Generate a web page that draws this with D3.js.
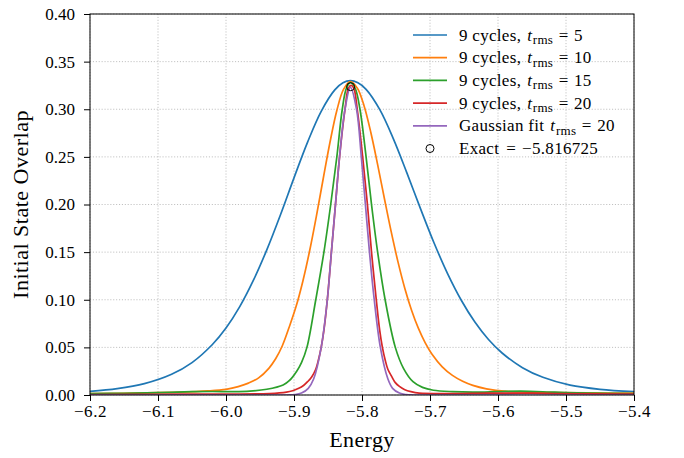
<!DOCTYPE html>
<html><head><meta charset="utf-8">
<script src="https://cdn.jsdelivr.net/npm/d3@7"></script>
<style>
html,body{margin:0;padding:0;background:#fff;}
svg{display:block;}
text{font-family:"Liberation Serif","DejaVu Serif",serif;fill:#000;}
</style></head>
<body>
<svg id="chart" width="684" height="458"></svg>
<script>
// ---- data ----
const xTicks = [-6.2, -6.1, -6.0, -5.9, -5.8, -5.7, -5.6, -5.5, -5.4];
const yTicks = [0.00, 0.05, 0.10, 0.15, 0.20, 0.25, 0.30, 0.35, 0.40];
const legendPrefix = ["9 cycles, ", "9 cycles, ", "9 cycles, ", "9 cycles, ", "Gaussian fit "];
const trms = [5, 10, 15, 20, 20];

const energy5  = [-6.200,-6.160,-6.120,-6.080,-6.050,-6.020,-6.000,-5.980,-5.960,-5.940,-5.920,-5.900,-5.880,-5.860,-5.840,-5.828,-5.817,-5.806,-5.794,-5.774,-5.754,-5.734,-5.714,-5.694,-5.674,-5.654,-5.634,-5.614,-5.594,-5.564,-5.534,-5.494,-5.450,-5.400];
const overlap5 = [0.0037,0.0066,0.0119,0.0217,0.034,0.053,0.0703,0.0925,0.120,0.1524,0.189,0.228,0.2655,0.2978,0.3203,0.3278,0.330,0.3278,0.3209,0.2998,0.2692,0.2332,0.1957,0.1596,0.1272,0.0995,0.0766,0.0583,0.0441,0.0287,0.0186,0.0104,0.0060,0.0035];

const energy10  = [-6.200,-6.117,-6.067,-6.027,-6.000,-5.982,-5.967,-5.952,-5.937,-5.927,-5.917,-5.907,-5.897,-5.887,-5.877,-5.867,-5.857,-5.847,-5.837,-5.827,-5.817,-5.807,-5.797,-5.787,-5.777,-5.767,-5.757,-5.747,-5.737,-5.727,-5.717,-5.707,-5.697,-5.682,-5.667,-5.652,-5.637,-5.617,-5.587,-5.557,-5.517,-5.467,-5.400];
const overlap10 = [0.0015,0.0022,0.003,0.0043,0.006,0.0088,0.0125,0.018,0.028,0.038,0.052,0.0714,0.0928,0.1195,0.1514,0.1881,0.2273,0.2656,0.2987,0.3211,0.329,0.3224,0.3037,0.2756,0.2418,0.206,0.1712,0.1395,0.1119,0.0888,0.0699,0.0548,0.0428,0.0296,0.0206,0.0144,0.0101,0.0065,0.0038,0.003,0.0025,0.0022,0.002];

const energy15  = [-6.200,-6.150,-6.100,-6.050,-6.020,-5.990,-5.965,-5.940,-5.916,-5.907,-5.896,-5.889,-5.881,-5.868,-5.856,-5.846,-5.837,-5.829,-5.823,-5.817,-5.810,-5.803,-5.794,-5.786,-5.777,-5.766,-5.751,-5.739,-5.725,-5.711,-5.695,-5.667,-5.637,-5.600,-5.567,-5.517,-5.467,-5.400];
const overlap15 = [0.0015,0.0018,0.0025,0.0035,0.0037,0.0035,0.004,0.006,0.0105,0.015,0.025,0.034,0.050,0.100,0.150,0.200,0.250,0.300,0.322,0.328,0.322,0.300,0.250,0.200,0.150,0.100,0.050,0.028,0.014,0.008,0.005,0.0035,0.003,0.0035,0.004,0.003,0.002,0.0015];

const energy20  = [-6.200,-6.100,-6.000,-5.936,-5.911,-5.902,-5.893,-5.886,-5.880,-5.874,-5.868,-5.864,-5.860,-5.856,-5.851,-5.845,-5.839,-5.833,-5.825,-5.820,-5.816,-5.812,-5.807,-5.799,-5.792,-5.786,-5.779,-5.774,-5.770,-5.766,-5.762,-5.756,-5.751,-5.745,-5.737,-5.728,-5.716,-5.666,-5.616,-5.566,-5.516,-5.400];
const overlap20 = [0.0005,0.0008,0.001,0.0015,0.003,0.0045,0.007,0.010,0.014,0.019,0.027,0.037,0.050,0.068,0.100,0.150,0.200,0.250,0.300,0.322,0.325,0.322,0.300,0.250,0.200,0.150,0.100,0.068,0.050,0.037,0.027,0.019,0.013,0.009,0.0055,0.0035,0.002,0.0015,0.002,0.002,0.0015,0.001];

const energyFit  = [-6.200,-5.910,-5.899,-5.889,-5.879,-5.871,-5.860,-5.851,-5.845,-5.839,-5.833,-5.825,-5.817,-5.808,-5.801,-5.795,-5.789,-5.782,-5.773,-5.762,-5.755,-5.745,-5.735,-5.725,-5.400];
const overlapFit = [0.000,0.000,0.0004,0.002,0.007,0.017,0.050,0.100,0.150,0.200,0.250,0.300,0.323,0.300,0.250,0.200,0.150,0.100,0.050,0.017,0.007,0.002,0.0004,0.000,0.000];

const exactEnergy = -5.816725;
const exactOverlap = 0.3237;

const colors = ["#1f77b4", "#ff7f0e", "#2ca02c", "#d62728", "#9467bd"];

// ---- layout ----
const svg = d3.select("#chart");
const M = {left: 90, right: 634, top: 14, bottom: 395};
const x = d3.scaleLinear().domain([-6.2, -5.4]).range([M.left, M.right]);
const y = d3.scaleLinear().domain([0, 0.4]).range([M.bottom, M.top]);

const fmtMinus = s => s.replace("-", "\u2212");

// grid
const grid = svg.append("g");
grid.selectAll("line.gx").data(xTicks).join("line")
  .attr("x1", d => x(d)).attr("x2", d => x(d)).attr("y1", M.top).attr("y2", M.bottom)
  .attr("stroke", "#b0b0b0").attr("stroke-width", 0.8).attr("stroke-dasharray", "1.1,1.8");
grid.selectAll("line.gy").data(yTicks).join("line")
  .attr("y1", d => y(d)).attr("y2", d => y(d)).attr("x1", M.left).attr("x2", M.right)
  .attr("stroke", "#b0b0b0").attr("stroke-width", 0.8).attr("stroke-dasharray", "1.1,1.8");

// clip
svg.append("clipPath").attr("id", "clip").append("rect")
  .attr("x", M.left).attr("y", M.top - 5).attr("width", M.right - M.left).attr("height", M.bottom - M.top + 5);

const line = d3.line().x(d => x(d[0])).y(d => y(Math.max(0, d[1]))).curve(d3.curveCatmullRom.alpha(0.5));
const allSeries = [
  d3.zip(energy5, overlap5),
  d3.zip(energy10, overlap10),
  d3.zip(energy15, overlap15),
  d3.zip(energy20, overlap20),
  d3.zip(energyFit, overlapFit)
];
const plot = svg.append("g").attr("clip-path", "url(#clip)");
allSeries.forEach((s, i) => {
  plot.append("path").datum(s).attr("d", line)
    .attr("fill", "none").attr("stroke", colors[i]).attr("stroke-width", 1.7)
    .attr("stroke-linejoin", "round");
});
svg.append("circle").attr("cx", x(exactEnergy)).attr("cy", y(exactOverlap)).attr("r", 4)
  .attr("fill", "none").attr("stroke", "#000").attr("stroke-width", 1);

// axes
const xAxis = d3.axisBottom(x).tickValues(xTicks).tickSize(6).tickPadding(4)
  .tickFormat(d => fmtMinus(d3.format(".1f")(d)));
const yAxis = d3.axisLeft(y).tickValues(yTicks).tickSize(6).tickPadding(9)
  .tickFormat(d => d3.format(".2f")(d));
const gx = svg.append("g").attr("transform", `translate(0,${M.bottom})`).call(xAxis);
const gy = svg.append("g").attr("transform", `translate(${M.left},0)`).call(yAxis);
[gx, gy].forEach(g => {
  g.select(".domain").remove();
  g.selectAll(".tick line").attr("stroke", "#000").attr("stroke-width", 1);
  g.selectAll(".tick text").attr("font-size", 17).attr("font-family", "'Liberation Serif', serif").attr("fill", "#000");
});
gx.selectAll(".tick text").attr("letter-spacing", "0.6px");
// frame
svg.append("rect").attr("x", M.left).attr("y", M.top).attr("width", M.right - M.left).attr("height", M.bottom - M.top)
  .attr("fill", "none").attr("stroke", "#000").attr("stroke-width", 1);

// axis titles
svg.append("text").attr("x", (M.left + M.right) / 2).attr("y", 447).attr("text-anchor", "middle")
  .attr("font-size", 22).attr("letter-spacing", "0.4px").text("Energy");
svg.append("text").attr("transform", `translate(28,${(M.top + M.bottom) / 2}) rotate(-90)`)
  .attr("text-anchor", "middle").attr("font-size", 22).attr("letter-spacing", "0.5px").text("Initial State Overlap");

// legend
const leg = svg.append("g");
const rowY = i => 35 + i * 22.7;
trms.forEach((t, i) => {
  leg.append("line").attr("x1", 413).attr("x2", 447).attr("y1", rowY(i)).attr("y2", rowY(i))
    .attr("stroke", colors[i]).attr("stroke-width", 1.7);
  const tx = leg.append("text").attr("x", 459).attr("y", rowY(i) + 5.5).attr("font-size", 17)
    .attr("letter-spacing", "0.3px");
  tx.append("tspan").text(legendPrefix[i]);
  tx.append("tspan").attr("font-style", "italic").attr("dx", 1.5).text("t");
  tx.append("tspan").attr("font-size", 13).attr("dy", 3.5).attr("dx", 0.5).text("rms");
  tx.append("tspan").attr("dy", -3.5).attr("dx", 5.5).text("=");
  tx.append("tspan").attr("dx", 5.5).text(String(t));
});
leg.append("circle").attr("cx", 430).attr("cy", rowY(5)).attr("r", 4)
  .attr("fill", "none").attr("stroke", "#000").attr("stroke-width", 1);
const ex = leg.append("text").attr("x", 459).attr("y", rowY(5) + 5.5).attr("font-size", 17).attr("letter-spacing", "0.3px");
ex.append("tspan").text("Exact");
ex.append("tspan").attr("dx", 7).text("=");
ex.append("tspan").attr("dx", 6).text("\u22125.816725");
</script>
</body></html>
